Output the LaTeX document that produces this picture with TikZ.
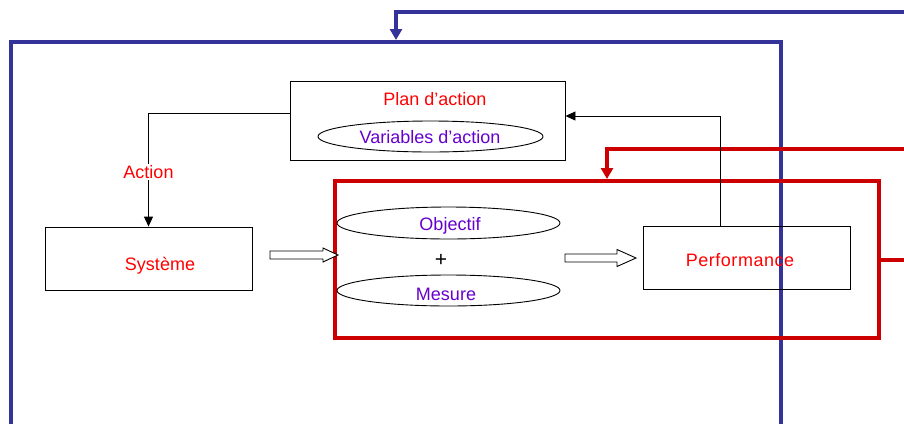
\documentclass[tikz,border=0pt]{standalone}
\usepackage{fontspec}
\setmainfont{Liberation Sans}
\usetikzlibrary{arrows.meta,shapes.geometric}
\definecolor{fbblue}{HTML}{333399}
\definecolor{fbred}{HTML}{CC0000}
\definecolor{txtred}{HTML}{FF0000}
\definecolor{txtpurple}{HTML}{6600CC}
\tikzset{
  box/.style={draw=black, line width=0.9pt, inner sep=0pt},
  oval/.style={draw=black, line width=0.9pt, ellipse, inner sep=0pt},
  redtxt/.style={text=txtred, font=\fontsize{18}{21}\selectfont},
  purtxt/.style={text=txtpurple, font=\fontsize{18}{21}\selectfont},
  thinline/.style={draw=black, line width=0.9pt},
  blueline/.style={draw=fbblue, line width=4pt},
  redline/.style={draw=fbred, line width=4pt},
  hollow/.style={draw=black, line width=0.9pt, fill=white, line join=miter},
  tip/.style={-{Triangle[length=10pt,width=9pt]}}
}
\begin{document}
\begin{tikzpicture}[x=1pt,y=-1pt]
\useasboundingbox (0,0) rectangle (904,424);
% blue outer frame and feedback
\draw[blueline] (11,424) -- (11,42) -- (781,42) -- (781,424);
\coordinate (bluein) at (904,12);
\coordinate (bluetip) at (396,40);
\draw[blueline, -{Triangle[length=11pt,width=12pt]}] (bluein) -| (bluetip);
% red frame and feedback
\draw[redline] (335,181) rectangle (879,338);
\coordinate (redin) at (904,149);
\coordinate (redtip) at (607,179);
\draw[redline, -{Triangle[length=11pt,width=12pt]}] (redin) -| (redtip);
\coordinate (redout) at (904,260);
\coordinate (redfr) at (879,260);
\draw[redline] (redfr) -- (redout);
% plan d'action
\node[box, minimum width=275pt, minimum height=79pt] (plan) at (427.5,120.5) {};
\node[redtxt] (plantxt) at (435,99) {Plan d’action};
\node[oval, minimum width=225pt, minimum height=31pt] (vars) at (430.5,136.5) {};
\node[purtxt] (varstxt) at (430,137.5) {Variables d’action};
% systeme
\node[box, minimum width=207pt, minimum height=63pt] (sys) at (148.5,258.5) {};
\node[redtxt] (systxt) at (160,266) {Système};
% objectif / mesure
\node[oval, minimum width=223pt, minimum height=32pt] (obj) at (448.5,223) {};
\node[purtxt] (objtxt) at (450,226) {Objectif};
\node[font=\fontsize{21}{24}\selectfont] (plus) at (441,260) {+};
\node[oval, minimum width=223pt, minimum height=31pt] (mes) at (448.5,290.5) {};
\node[purtxt] (mestxt) at (446,294) {Mesure};
% performance
\node[box, minimum width=207pt, minimum height=63pt] (perf) at (746.5,257.5) {};
\node[redtxt, font=\fontsize{18}{21}\selectfont\addfontfeature{LetterSpace=3}] (perftxt) at (740,260) {Performance};
% connectors
\draw[thinline, tip] ([yshift=7.5pt]plan.west) -| (sys.north)
  node[pos=0.76, fill=white, redtxt, inner sep=1pt] {Action};
\draw[thinline, tip] ([xshift=-26.5pt]perf.north) |- ([yshift=4.5pt]plan.east);
% hollow arrows
\draw[hollow] (270,251) -- (323,251) -- (323,248) -- (338,255) -- (323,262) -- (323,259) -- (270,259) -- cycle;
\draw[hollow] (565,254) -- (617,254) -- (617,249.5) -- (636,258) -- (617,266.5) -- (617,262) -- (565,262) -- cycle;
\end{tikzpicture}
\end{document}
